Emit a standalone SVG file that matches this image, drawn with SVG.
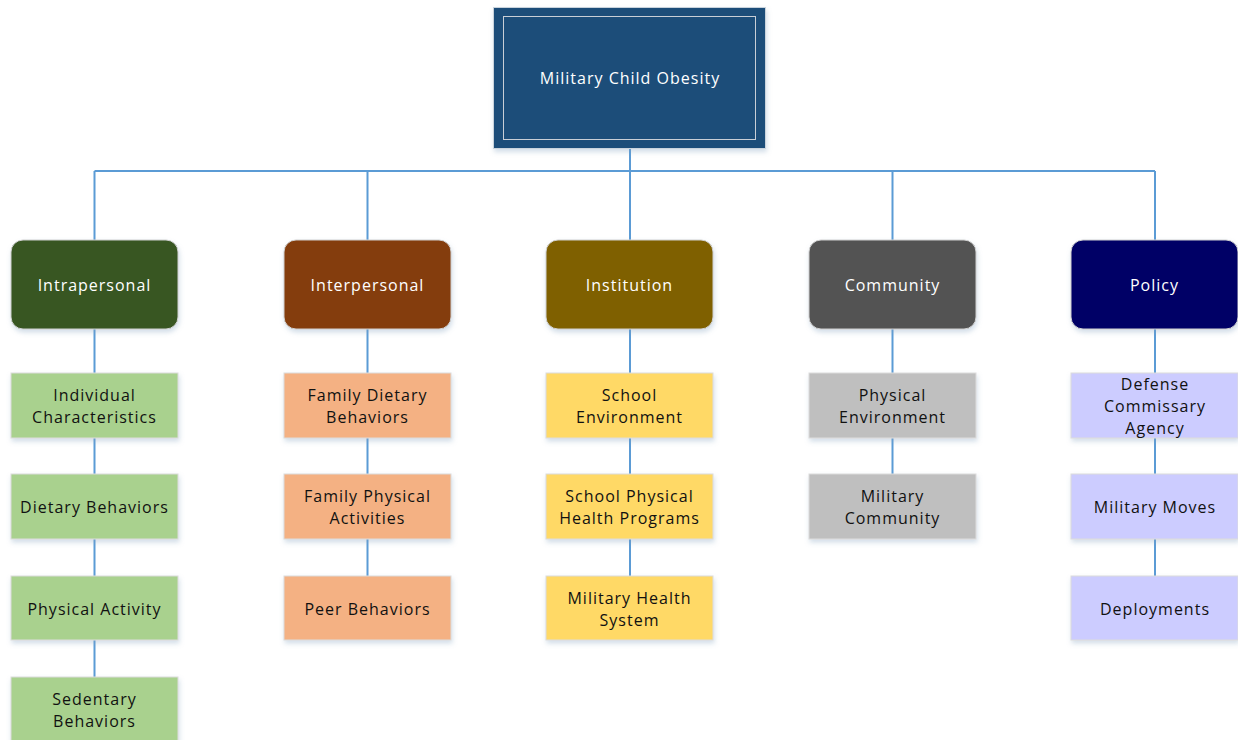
<svg xmlns="http://www.w3.org/2000/svg" width="1238" height="740" viewBox="0 0 1238 740">
<defs>
<filter id="sh" x="-10%" y="-10%" width="125%" height="130%">
<feDropShadow dx="1" dy="3" stdDeviation="2.5" flood-color="#7f9fbf" flood-opacity="0.35"/>
</filter>
<style>
.c{stroke:#5b9bd5;stroke-width:2;fill:none}
.t{font-family:"Open Sans","DejaVu Sans",sans-serif;font-size:16px;letter-spacing:1px;text-anchor:middle;dominant-baseline:central}
.w{fill:#ffffff}
.k{fill:#111111}
.l1{stroke:#d0d0d0;stroke-width:1;filter:url(#sh)}
.l2{stroke:#dcdcdc;stroke-width:1;filter:url(#sh)}
</style>
</defs>
<rect width="1238" height="740" fill="#ffffff"/>
<g id="connectors">
<path class="c" d="M630 149V171M94.5 171H1155M94.5 171V240M367.5 171V240M630 171V240M892.5 171V240M1155 171V240"/>
<path class="c" d="M94.5 329V677M367.5 329V576M630 329V576M892.5 329V474M1155 329V576"/>
</g>
<g id="root">
<rect x="493.5" y="7.5" width="272" height="141" fill="#1f4e79" stroke="#c9d3dc" stroke-width="1" filter="url(#sh)"/>
<rect x="503.5" y="16.5" width="252" height="123" fill="none" stroke="#c8ced6" stroke-width="1"/>
<text class="t w" x="630" y="78">Military Child Obesity</text>
</g>
<g id="intrapersonal"><rect class="l1" x="11" y="240" width="167" height="89" rx="12" fill="#375623"/><text class="t w" x="94.5" y="285">Intrapersonal</text></g>
<g id="interpersonal"><rect class="l1" x="284" y="240" width="167" height="89" rx="12" fill="#843c0c"/><text class="t w" x="367.5" y="285">Interpersonal</text></g>
<g id="institution"><rect class="l1" x="546" y="240" width="167" height="89" rx="12" fill="#7f6000"/><text class="t w" x="629.5" y="285">Institution</text></g>
<g id="community"><rect class="l1" x="809" y="240" width="167" height="89" rx="12" fill="#525252"/><text class="t w" x="892.5" y="285">Community</text></g>
<g id="policy"><rect class="l1" x="1071" y="240" width="167" height="89" rx="12" fill="#000066"/><text class="t w" x="1154.5" y="285">Policy</text></g>

<g id="individual-characteristics"><rect class="l2" x="11" y="373" width="167" height="65" fill="#a9d18e"/><text class="t k" x="94.5" y="395">Individual</text><text class="t k" x="94.5" y="417">Characteristics</text></g>
<g id="dietary-behaviors"><rect class="l2" x="11" y="474" width="167" height="65" fill="#a9d18e"/><text class="t k" x="94.5" y="507">Dietary Behaviors</text></g>
<g id="physical-activity"><rect class="l2" x="11" y="576" width="167" height="64" fill="#a9d18e"/><text class="t k" x="94.5" y="609">Physical Activity</text></g>
<g id="sedentary-behaviors"><rect class="l2" x="11" y="677" width="167" height="66" fill="#a9d18e"/><text class="t k" x="94.5" y="699">Sedentary</text><text class="t k" x="94.5" y="721">Behaviors</text></g>

<g id="family-dietary"><rect class="l2" x="284" y="373" width="167" height="65" fill="#f4b183"/><text class="t k" x="367.5" y="395">Family Dietary</text><text class="t k" x="367.5" y="417">Behaviors</text></g>
<g id="family-physical"><rect class="l2" x="284" y="474" width="167" height="65" fill="#f4b183"/><text class="t k" x="367.5" y="496">Family Physical</text><text class="t k" x="367.5" y="518">Activities</text></g>
<g id="peer-behaviors"><rect class="l2" x="284" y="576" width="167" height="64" fill="#f4b183"/><text class="t k" x="367.5" y="609">Peer Behaviors</text></g>

<g id="school-environment"><rect class="l2" x="546" y="373" width="167" height="65" fill="#ffd966"/><text class="t k" x="629.5" y="395">School</text><text class="t k" x="629.5" y="417">Environment</text></g>
<g id="school-physical"><rect class="l2" x="546" y="474" width="167" height="65" fill="#ffd966"/><text class="t k" x="629.5" y="496">School Physical</text><text class="t k" x="629.5" y="518">Health Programs</text></g>
<g id="military-health"><rect class="l2" x="546" y="576" width="167" height="64" fill="#ffd966"/><text class="t k" x="629.5" y="598">Military Health</text><text class="t k" x="629.5" y="620">System</text></g>

<g id="physical-environment"><rect class="l2" x="809" y="373" width="167" height="65" fill="#bfbfbf"/><text class="t k" x="892.5" y="395">Physical</text><text class="t k" x="892.5" y="417">Environment</text></g>
<g id="military-community"><rect class="l2" x="809" y="474" width="167" height="65" fill="#bfbfbf"/><text class="t k" x="892.5" y="496">Military</text><text class="t k" x="892.5" y="518">Community</text></g>

<g id="defense-commissary"><rect class="l2" x="1071" y="373" width="167" height="65" fill="#ccccff"/><text class="t k" x="1155" y="384">Defense</text><text class="t k" x="1155" y="406">Commissary</text><text class="t k" x="1155" y="428">Agency</text></g>
<g id="military-moves"><rect class="l2" x="1071" y="474" width="167" height="65" fill="#ccccff"/><text class="t k" x="1155" y="507">Military Moves</text></g>
<g id="deployments"><rect class="l2" x="1071" y="576" width="167" height="64" fill="#ccccff"/><text class="t k" x="1155" y="609">Deployments</text></g>
</svg>
